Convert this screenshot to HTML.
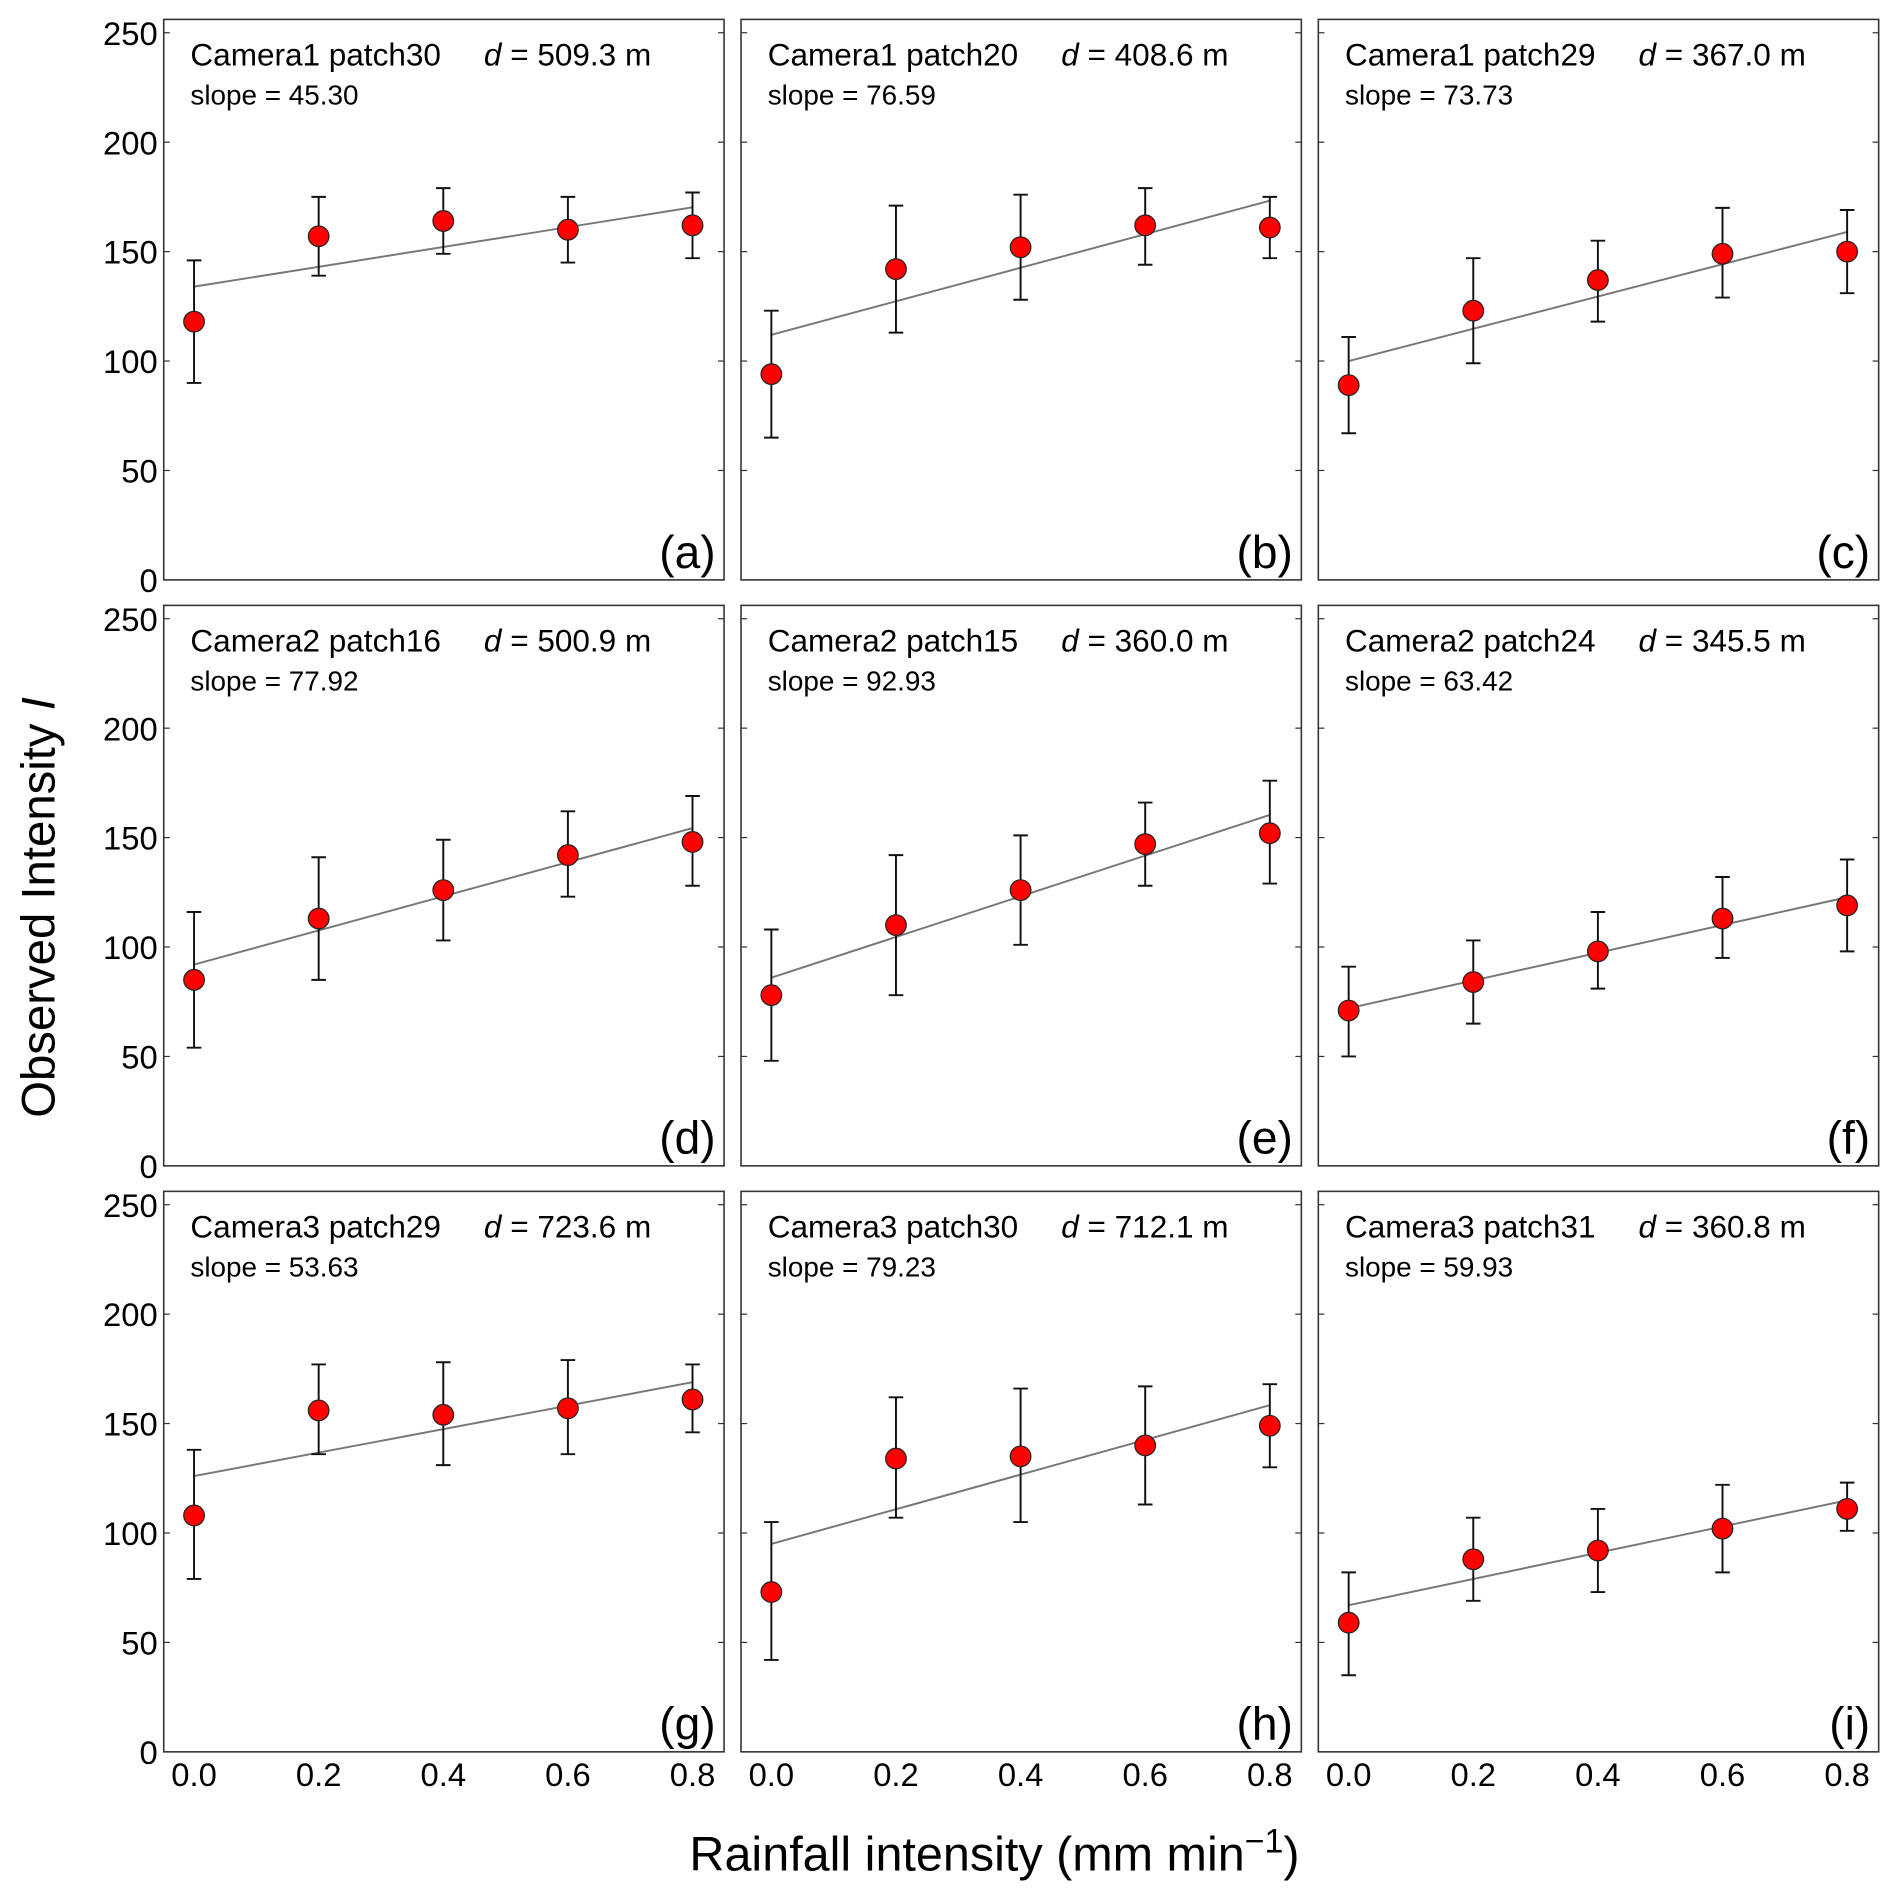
<!DOCTYPE html>
<html><head><meta charset="utf-8"><style>
html,body{margin:0;padding:0;background:#fff}
svg{display:block}
text{font-family:"Liberation Sans",Arial,sans-serif;fill:#000}
</style></head><body>
<svg id="fig" width="1892" height="1895" viewBox="0 0 1560 1562" preserveAspectRatio="none" xmlns="http://www.w3.org/2000/svg"></svg>
<script>
const xCats=[0,0.2,0.4,0.6,0.8];
const xTickLabels=["0.0","0.2","0.4","0.6","0.8"];
const yTicks=[0,50,100,150,200,250];
const cams=["Camera1 patch30","Camera1 patch20","Camera1 patch29","Camera2 patch16","Camera2 patch15","Camera2 patch24","Camera3 patch29","Camera3 patch30","Camera3 patch31"];
const dists=["509.3","408.6","367.0","500.9","360.0","345.5","723.6","712.1","360.8"];
const slopes=[45.30,76.59,73.73,77.92,92.93,63.42,53.63,79.23,59.93];
const intercepts=[134,112,100,92,86,72,126,95,67];
const letters=["(a)","(b)","(c)","(d)","(e)","(f)","(g)","(h)","(i)"];
const means=[[118,157,164,160,162],[94,142,152,162,161],[89,123,137,149,150],[85,113,126,142,148],[78,110,126,147,152],[71,84,98,113,119],[108,156,154,157,161],[73,134,135,140,149],[59,88,92,102,111]];
const errTop=[[146,175,179,175,177],[123,171,176,179,175],[111,147,155,170,169],[116,141,149,162,169],[108,142,151,166,176],[91,103,116,132,140],[138,177,178,179,177],[105,162,166,167,168],[82,107,111,122,123]];
const errBot=[[90,139,149,145,147],[65,113,128,144,147],[67,99,118,129,131],[54,85,103,123,128],[48,78,101,128,129],[50,65,81,95,98],[79,136,131,136,146],[42,107,105,113,130],[35,69,73,82,101]];

const NS="http://www.w3.org/2000/svg";
const svg=document.getElementById('fig');
function mk(tag,attrs,parent){const e=document.createElementNS(NS,tag);for(const k in attrs)e.setAttribute(k,attrs[k]);(parent||svg).appendChild(e);return e;}
const colX=[135,611,1087], rowY=[16,499,982], PW=462, PH=462;
for(let p=0;p<9;p++){
  const c=p%3,r=Math.floor(p/3);
  const L=colX[c],T=rowY[r],B=T+PH,R=L+PW;
  const xs=v=>L+25+v/0.8*411;
  const ys=v=>B-v*(451/250);
  const g=mk('g',{});
  
  
  const fr=mk('rect',{x:L,y:T,width:PW,height:PH,fill:'none',stroke:'#333','stroke-width':1.3},g);
  
  
  yTicks.forEach(t=>{
    const y=ys(t);
    if(t>0){mk('line',{x1:L,x2:L+5,y1:y,y2:y,stroke:'#333','stroke-width':1},g);
    mk('line',{x1:R-5,x2:R,y1:y,y2:y,stroke:'#333','stroke-width':1},g);}
    if(c===0){const tx=mk('text',{x:L-5,y:y+10,'text-anchor':'end','font-size':27},g);tx.textContent=t;
      
      }
  });
  if(r===2){xCats.forEach((v,i)=>{const tx=mk('text',{x:xs(v),y:B+28,'text-anchor':'middle','font-size':27},g);tx.textContent=xTickLabels[i];
    
    });}
  const fit=mk('line',{x1:xs(0),y1:ys(intercepts[p]),x2:xs(0.8),y2:ys(intercepts[p]+slopes[p]*0.8),stroke:'#777','stroke-width':1.6},g);
  
  
  xCats.forEach((v,i)=>{
    const x=xs(v),yt=ys(errTop[p][i]),yb=ys(errBot[p][i]);
    const eb=mk('path',{d:`M${x},${yt}V${yb}M${x-6},${yt}H${x+6}M${x-6},${yb}H${x+6}`,stroke:'#111','stroke-width':1.6,fill:'none'},g);
    
    
    const pt=mk('circle',{cx:x,cy:ys(means[p][i]),r:8.5,fill:'#f00',stroke:'#222','stroke-width':1},g);
    
    
  });
  const t1=mk('text',{x:L+22,y:T+38,'font-size':26},g);
  t1.textContent=cams[p];
  
  
  const t1b=mk('text',{x:L+264,y:T+38,'font-size':26},g);
  t1b.innerHTML='<tspan font-style="italic">d</tspan> = '+dists[p]+' m';
  
  
  const t2=mk('text',{x:L+22,y:T+70,'font-size':23},g);
  t2.textContent='slope = '+slopes[p].toFixed(2);
  
  
  const t3=mk('text',{x:R-7,y:B-10,'text-anchor':'end','font-size':38},g);
  t3.textContent=letters[p];
  
  
}
const yt=mk('text',{x:0,y:0,'text-anchor':'middle','font-size':39,transform:'translate(45,748) rotate(-90)'});
yt.innerHTML='Observed Intensity <tspan font-style="italic">I</tspan>';


const xt=mk('text',{x:820,y:1542,'text-anchor':'middle','font-size':40});
xt.innerHTML='Rainfall intensity (mm min<tspan dy="-15" font-size="28">\u22121</tspan><tspan dy="15">)</tspan>';


</script>
</body></html>
